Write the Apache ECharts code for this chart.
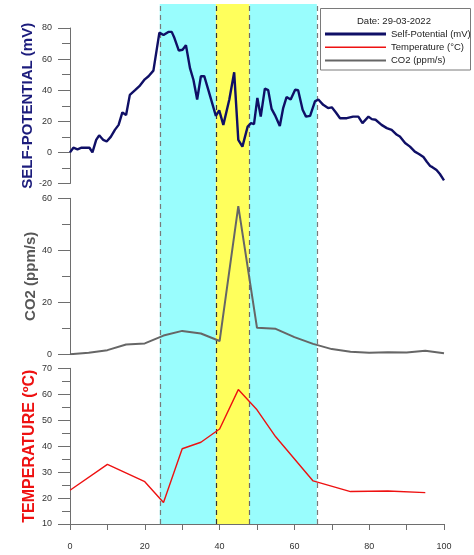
<!DOCTYPE html>
<html>
<head>
<meta charset="utf-8">
<script src="https://cdn.jsdelivr.net/npm/echarts@6/dist/echarts.min.js"></script>
<style>
  html, body { margin: 0; padding: 0; background: #fff; }
  #chart { width: 474px; height: 555px; }
</style>
</head>
<body>
<div id="chart"></div>
<script>
// Self-potential profile (distance, mV)
const spDistance = [0, 0.9, 2, 3.1, 5.2, 6, 7, 7.8, 8.9, 9.8, 10.9, 12, 13, 14, 15, 16, 17.4, 18.7, 20, 21, 22.3,
  23.9, 25, 26.3, 27.2, 27.9, 29.1, 30.1, 31, 32.1, 33, 34, 35, 35.9, 37, 39, 39.9, 41, 42.6, 43.9, 45, 46.1,
  47.5, 48.4, 49.2, 50.1, 51, 52.1, 53, 53.9, 54.8, 56.1, 57, 57.9, 59, 60.2, 61, 62.2, 63.1, 64.2, 65.5, 66.4,
  67.7, 69, 70, 71.1, 72.2, 74, 75.7, 77.1, 78.2, 79.8, 80.7, 81.7, 83.3, 84.7, 86, 87.4, 88.2, 89.6, 90.9,
  92.2, 93.3, 94.5, 95.4, 96.3, 96.9, 98, 98.9, 100];
const spValues = [0, 3, 2, 3, 3, 0, 8, 11, 8, 7, 10, 14.5, 17.7, 25.7, 24, 37, 40, 43, 47, 49, 52.6,
  77, 75.5, 77.5, 77.5, 73.7, 65.5, 66, 69, 54, 46.7, 34, 49, 49, 40, 23.5, 27, 17.7, 34, 51.5, 8, 3.7,
  16.6, 18.8, 18.2, 35, 23, 41, 40, 28, 24, 17, 28.5, 35.6, 34, 40.3, 40, 27.4, 23, 23.5, 32.8, 34,
  30.6, 28.5, 29, 25.7, 22, 22, 23, 23, 18.8, 23, 21.4, 21, 17.7, 15.6, 14.5, 11.3, 10.2, 6, 3.7,
  0.5, -1, -3, -6, -8.7, -9.5, -11.3, -13.9, -18];

// CO2 flux (distance, ppm/s)
const co2Distance = [0, 5, 10, 15, 20, 25, 30, 35, 40, 45, 50, 55, 60, 65, 70, 75, 80, 85, 90, 95, 100];
const co2Values = [0, 0.6, 1.6, 3.8, 4.2, 7.2, 9, 8, 5.1, 57, 10.2, 9.8, 6.6, 4, 2, 1, 0.6, 0.8, 0.7, 1.4, 0.4];

// Temperature (distance, ºC)
const tempDistance = [0, 10, 20, 25, 30, 35, 40, 45, 50, 55, 65, 75, 85, 95];
const tempValues = [23, 33, 26.3, 18.3, 39, 41.5, 46.6, 61.8, 54, 43.6, 26.6, 22.5, 22.7, 22.1];

// Highlighted zones along the profile [from, to, colour]
const zones = [[24, 39, '#99fdfd'], [39, 48, '#ffff5c'], [48, 66, '#99fdfd']];
const zoneEdges = [[24, '#7a7a7a'], [39, '#333333'], [48, '#6a6a6a'], [66, '#7a7a7a']];

const seriesNames = ['Self-Potential (mV)', 'Temperature (°C)', 'CO2 (ppm/s)'];
const dateLabel = 'Date: 29-03-2022';

const FONT = '"Liberation Sans", Arial, sans-serif';
const axisGrey = '#6e6e6e';

function pairs(xs, ys) { return xs.map((x, i) => [x, ys[i]]); }

function yAxisCfg(idx, min, max, interval, name, nameColor, nameSize, nameGap) {
  return {
    gridIndex: idx, type: 'value', min: min, max: max, interval: interval,
    name: name, nameLocation: 'middle', nameRotate: 90, nameGap: nameGap, nameMoveOverlap: false,
    nameTextStyle: { color: nameColor, fontSize: nameSize, fontWeight: 'bold', fontFamily: FONT },
    axisLine: { show: true, lineStyle: { color: axisGrey, width: 1 } },
    axisTick: { show: true, inside: false, length: 12, lineStyle: { color: axisGrey } },
    minorTick: { show: true, splitNumber: 2, length: 8, lineStyle: { color: axisGrey } },
    splitLine: { show: false },
    axisLabel: { color: '#333', fontSize: 9, fontFamily: FONT, margin: 18 }
  };
}

const hiddenX = (idx) => ({ gridIndex: idx, type: 'value', min: 0, max: 100, show: false });

const chart = echarts.init(document.getElementById('chart'), null, { renderer: 'canvas' });

chart.setOption({
  animation: false,
  backgroundColor: '#ffffff',
  grid: [
    { left: 70, width: 374, top: 28, height: 155.5 },
    { left: 70, width: 374, top: 198.3, height: 156 },
    { left: 70, width: 374, top: 368.3, height: 155.7 },
    { left: 70, width: 374, top: 4, height: 520 }
  ],
  xAxis: [
    hiddenX(0),
    hiddenX(1),
    {
      gridIndex: 2, type: 'value', min: 0, max: 100, interval: 20,
      axisLine: { show: true, lineStyle: { color: axisGrey } },
      axisTick: { show: true, length: 6, lineStyle: { color: axisGrey } },
      minorTick: { show: true, splitNumber: 2, length: 6, lineStyle: { color: axisGrey } },
      splitLine: { show: false },
      axisLabel: { color: '#333', fontSize: 9, fontFamily: FONT, margin: 18 }
    },
    hiddenX(3)
  ],
  yAxis: [
    yAxisCfg(0, -20, 80, 20, 'SELF-POTENTIAL (mV)', '#1c1c7c', 15, 35),
    yAxisCfg(1, 0, 60, 20, 'CO2 (ppm/s)', '#575757', 15, 32),
    yAxisCfg(2, 10, 70, 10, 'TEMPERATURE (ºC)', '#ee1111', 16, 32),
    { gridIndex: 3, type: 'value', min: 0, max: 1, show: false }
  ],
  legend: {
    z: 100,
    orient: 'vertical', left: 325, top: 29, padding: 0, itemWidth: 61, itemHeight: 12, itemGap: 3.3,
    symbolKeepAspect: true,
    textStyle: { color: '#222', fontSize: 9.5, fontFamily: FONT },
    data: [
      { name: seriesNames[0], icon: 'path://M0,0h61v3h-61z', itemStyle: { color: '#0f0f66' } },
      { name: seriesNames[1], icon: 'path://M0,0h61v1.4h-61z', itemStyle: { color: '#ee1111' } },
      { name: seriesNames[2], icon: 'path://M0,0h61v2h-61z', itemStyle: { color: '#666666' } }
    ],
    selectedMode: false
  },
  graphic: [
    { type: 'rect', z: 1, shape: { x: 320.5, y: 8.5, width: 150, height: 61.5 },
      style: { fill: '#ffffff', stroke: '#7a7a7a', lineWidth: 1 } },
    { type: 'text', z: 60, left: 357, top: 16,
      style: { text: dateLabel, fill: '#222', font: '9.5px ' + FONT } }
  ],
  series: [
    {
      type: 'line', xAxisIndex: 3, yAxisIndex: 3, data: [], silent: true, z: 0,
      markArea: {
        silent: true,
        data: zones.map(z => [{ xAxis: z[0], itemStyle: { color: z[2] } }, { xAxis: z[1] }])
      },
      markLine: {
        silent: true, symbol: 'none', label: { show: false },
        data: zoneEdges.map(e => ({ xAxis: e[0], lineStyle: { color: e[1], type: [5, 4], width: 1.2 } }))
      }
    },
    {
      name: seriesNames[0], type: 'line', xAxisIndex: 0, yAxisIndex: 0, z: 5,
      data: pairs(spDistance, spValues), showSymbol: false,
      lineStyle: { color: '#0f0f66', width: 2.4 }, itemStyle: { color: '#0f0f66' }
    },
    {
      name: seriesNames[2], type: 'line', xAxisIndex: 1, yAxisIndex: 1, z: 5,
      data: pairs(co2Distance, co2Values), showSymbol: false,
      lineStyle: { color: '#666666', width: 2 }, itemStyle: { color: '#666666' }
    },
    {
      name: seriesNames[1], type: 'line', xAxisIndex: 2, yAxisIndex: 2, z: 5,
      data: pairs(tempDistance, tempValues), showSymbol: false,
      lineStyle: { color: '#ee1111', width: 1.4 }, itemStyle: { color: '#ee1111' }
    }
  ]
});
</script>
</body>
</html>
